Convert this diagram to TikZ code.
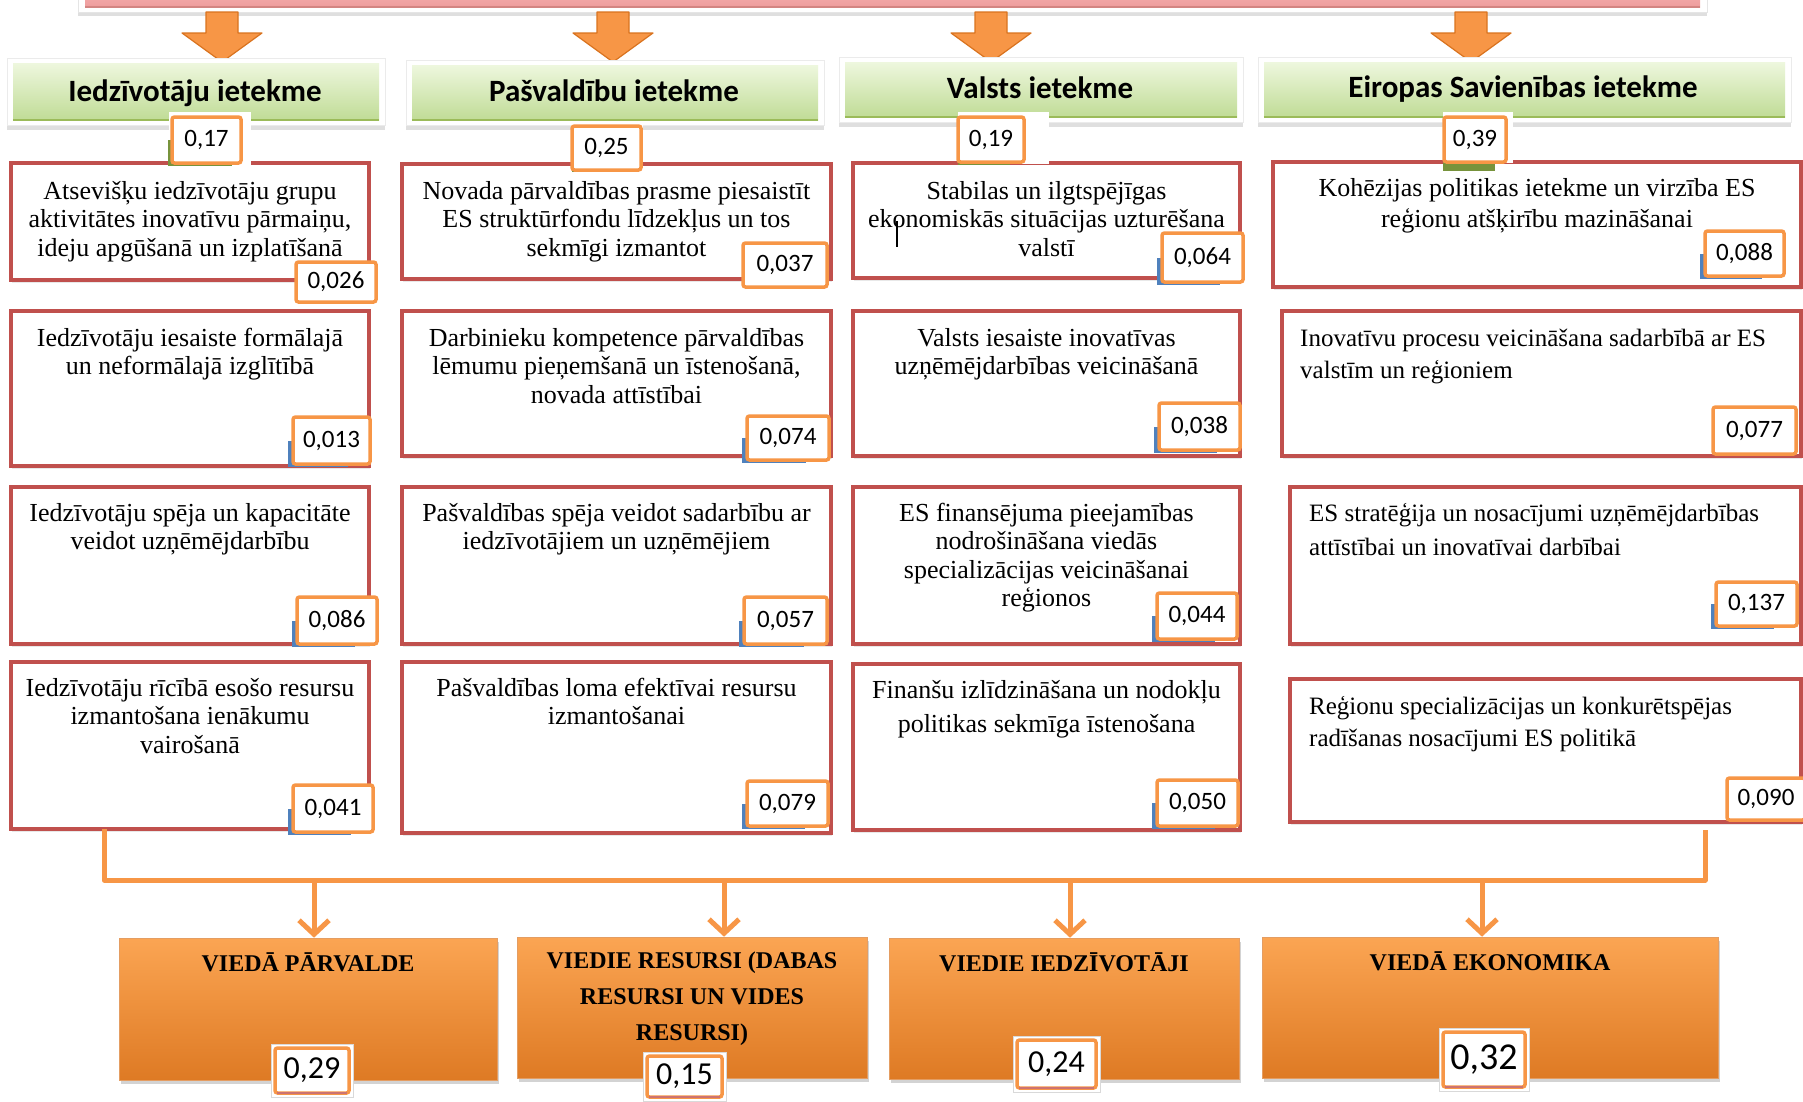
\documentclass[tikz,border=0pt]{standalone}
\usepackage{fontspec}
\setmainfont{Liberation Serif}
\newfontfamily\carl{Carlito}
\usetikzlibrary{shadows,calc,arrows.meta}
\definecolor{orn}{HTML}{F79646}
\definecolor{ornd}{HTML}{D9731F}
\definecolor{redb}{HTML}{C0504D}
\definecolor{blu}{HTML}{4F81BD}
\definecolor{olv}{HTML}{77933C}
\definecolor{pinktop}{HTML}{F6B4B4}
\definecolor{pinkbot}{HTML}{EE9C9C}
\definecolor{grtop}{HTML}{EEF7DE}
\definecolor{grbot}{HTML}{C0DC96}
\definecolor{grline}{HTML}{9BBB59}
\definecolor{obtop}{HTML}{FBA553}
\definecolor{obbot}{HTML}{DE7A24}
\newcommand\st{\rule{0pt}{23pt}}
\newcommand\rbx[5]{\node[redbox, minimum width={#4-#2}, minimum height={#5-#3}] (#1) at ({(#2+#4)/2},{(#3+#5)/2}) {};}
\newcommand\bbar[4]{\fill[blu] ({#1-5},{(#2+#4)/2}) rectangle ({#1+0.72*(#3-#1)},{#4+3});}
\newcommand\nbx[6]{\node[numbox, minimum width={#4-#2}, minimum height={#5-#3}] (#1) at ({(#2+#4)/2},{(#3+#5)/2}) {#6};}
\newcommand\bnum[7]{%
  \fill[white, draw=black!15, line width=0.5pt] (#2,#3) rectangle (#4,#5);
  \node[numbox, font=\carl\fontsize{#7}{#7}\selectfont, minimum width={#4-#2-8}, minimum height={#5-#3-8}] (#1) at ({(#2+#4)/2},{(#3+#5)/2}) {#6};
  \draw[redb!80, line width=2pt] ({#2+6},{#5-4}) -- ({#4-6},{#5-4});}
\newcommand\harrow[1]{%
  \filldraw[fill=orn, draw=ornd, line width=1.2pt, line join=round]
   ({#1-16},12) -- ({#1+16},12) -- ({#1+16},33) -- ({#1+40},33) -- (#1,62) -- ({#1-40},33) -- ({#1-16},33) -- cycle;}
\begin{document}
\begin{tikzpicture}[x=1pt,y=-1pt,
  redbox/.style={draw=redb, line width=3.5pt, fill=white, inner sep=0pt, outer sep=0pt,
     drop shadow={opacity=0.18, shadow xshift=1pt, shadow yshift=-2.5pt}},
  numbox/.style={draw=orn, line width=3.5pt, fill=white, rounded corners=2.5pt, inner sep=0pt, outer sep=0pt,
     font=\carl\fontsize{25}{25}\selectfont},
  hdrframe/.style={fill=white, draw=black!8, inner sep=0pt,
     drop shadow={opacity=0.25, shadow xshift=0pt, shadow yshift=-4pt}},
  hdr/.style={top color=grtop, bottom color=grbot, inner sep=0pt},
  hdrtext/.style={font=\carl\bfseries\fontsize{31}{31}\selectfont, inner sep=0pt, anchor=base},
  boxtext/.style={font=\fontsize{26}{28.5}\selectfont, align=center, inner sep=0pt, anchor=north},
  lefttext/.style={font=\fontsize{25}{32}\selectfont, align=left, inner sep=0pt, anchor=north west},
  obox/.style={top color=obtop, bottom color=obbot, draw=ornd!70, line width=0.6pt, inner sep=0pt,
     drop shadow={opacity=0.35, shadow xshift=2pt, shadow yshift=-4pt}},
  otext/.style={font=\bfseries\fontsize{24}{36}\selectfont, align=center, inner sep=0pt, anchor=north},
  bus/.style={draw=orn, line width=5pt, line join=round},
  barrow/.style={draw=orn, line width=5pt, -{Straight Barb[length=14pt, width=30pt]}}
]
\useasboundingbox (0,0) rectangle (1803,1101);
% top bar
\node[fill=white, draw=black!10, inner sep=0pt, minimum width=1629, minimum height=26,
  drop shadow={opacity=0.25, shadow xshift=0pt, shadow yshift=-4pt}] (topframe) at (892.5,-1) {};
\node[top color=pinktop, bottom color=pinkbot, inner sep=0pt, minimum width=1615, minimum height=20] (topbar) at (892.5,-3) {};
\draw[redb!70, line width=2pt] (topbar.south west) -- (topbar.south east);
% block arrows
\harrow{222}\harrow{613}\harrow{991}\harrow{1471}
% headers
\node[hdrframe, minimum width=378, minimum height=67] (f1) at (196,92) {};
\node[hdr, minimum width=366, minimum height=57] (h1) at (196,91.5) {};
\node[hdrframe, minimum width=418, minimum height=65] (f2) at (615,93) {};
\node[hdr, minimum width=406, minimum height=55] (h2) at (615,92.5) {};
\node[hdrframe, minimum width=404, minimum height=65] (f3) at (1041,90) {};
\node[hdr, minimum width=392, minimum height=55] (h3) at (1041,89.5) {};
\node[hdrframe, minimum width=533, minimum height=65] (f4) at (1524.5,90) {};
\node[hdr, minimum width=521, minimum height=55] (h4) at (1524.5,89.5) {};
\foreach \h in {h1,h2,h3,h4}{\draw[grline, line width=2.5pt] (\h.south west) -- (\h.south east);}
\node[hdrtext] (t1) at (195,101) {Iedzīvotāju ietekme};
\node[hdrtext] (t2) at (614,101) {Pašvaldību ietekme};
\node[hdrtext] (t3) at (1040,98) {Valsts ietekme};
\node[hdrtext] (t4) at (1523,97) {Eiropas Savienības ietekme};
% red boxes
\rbx{c1r1}{11}{163}{369}{280}
\rbx{c2r1}{402}{164}{831}{279}
\rbx{c3r1}{853}{163}{1240}{278}
\rbx{c4r1}{1273}{162}{1801}{287}
\rbx{c1r2}{11}{311}{369}{466}
\rbx{c2r2}{402}{311}{831}{456}
\rbx{c3r2}{853}{311}{1240}{456}
\rbx{c4r2}{1282}{311}{1801}{456}
\rbx{c1r3}{11}{487}{369}{644}
\rbx{c2r3}{402}{487}{831}{644}
\rbx{c3r3}{853}{487}{1240}{644}
\rbx{c4r3}{1290}{487}{1801}{644}
\rbx{c1r4}{11}{662}{369}{829}
\rbx{c2r4}{402}{662}{831}{833}
\rbx{c3r4}{853}{664}{1240}{830}
\rbx{c4r4}{1290}{679}{1801}{822}
% top value boxes
\fill[white] (169,112) rectangle (251,165);
\fill[white] (571,124) rectangle (643,171);
\fill[white] (958,112) rectangle (1049,164);
\fill[white] (1443,112) rectangle (1513,163);
\fill[olv] (168,140) rectangle (232,166);
\fill[olv] (572,150) rectangle (626,172);
\fill[olv] (958,150) rectangle (1010,165);
\fill[olv] (1443,158) rectangle (1495,171);
\nbx{n17}{172}{117}{241}{163}{0,17}
\nbx{n25}{572}{126}{641}{170}{0,25}
\nbx{n19}{958}{117}{1024}{162}{0,19}
\nbx{n39}{1444}{117}{1506}{162}{0,39}
% texts
\node[boxtext] (x11) at (190,176) {\st Atsevišķu iedzīvotāju grupu\\aktivitātes inovatīvu pārmaiņu,\\ideju apgūšanā un izplatīšanā};
\node[boxtext] (x21) at (616.5,176) {\st Novada pārvaldības prasme piesaistīt\\ES struktūrfondu līdzekļus un tos\\sekmīgi izmantot};
\node[boxtext] (x31) at (1046.5,176) {\st Stabilas un ilgtspējīgas\\ekonomiskās situācijas uzturēšana\\valstī};
\node[boxtext, font=\fontsize{26}{31}\selectfont] (x41) at (1537,173) {\st Kohēzijas politikas ietekme un virzība ES\\reģionu atšķirību mazināšanai};
\node[boxtext] (x12) at (190,323) {\st Iedzīvotāju iesaiste formālajā\\un neformālajā izglītībā};
\node[boxtext] (x22) at (616.5,323) {\st Darbinieku kompetence pārvaldības\\lēmumu pieņemšanā un īstenošanā,\\novada attīstībai};
\node[boxtext] (x32) at (1046.5,323) {\st Valsts iesaiste inovatīvas\\uzņēmējdarbības veicināšanā};
\node[lefttext] (x42) at (1300,323) {\st Inovatīvu procesu veicināšana sadarbībā ar ES\\valstīm un reģioniem};
\node[boxtext] (x13) at (190,498) {\st Iedzīvotāju spēja un kapacitāte\\veidot uzņēmējdarbību};
\node[boxtext] (x23) at (616.5,498) {\st Pašvaldības spēja veidot sadarbību ar\\iedzīvotājiem un uzņēmējiem};
\node[boxtext] (x33) at (1046.5,498) {\st ES finansējuma pieejamības\\nodrošināšana viedās\\specializācijas veicināšanai\\reģionos};
\node[lefttext, font=\fontsize{25}{34}\selectfont] (x43) at (1309,498) {\st ES stratēģija un nosacījumi uzņēmējdarbības\\attīstībai un inovatīvai darbībai};
\node[boxtext] (x14) at (190,673) {\st Iedzīvotāju rīcībā esošo resursu\\izmantošana ienākumu\\vairošanā};
\node[boxtext] (x24) at (616.5,673) {\st Pašvaldības loma efektīvai resursu\\izmantošanai};
\node[boxtext, font=\fontsize{26}{34}\selectfont] (x34) at (1046.5,675) {\st Finanšu izlīdzināšana un nodokļu\\politikas sekmīga īstenošana};
\node[lefttext] (x44) at (1309,691) {\st Reģionu specializācijas un konkurētspējas\\radīšanas nosacījumi ES politikā};
\draw[line width=2.5pt] (897,221) -- (897,247);
% blue bars
\bbar{293}{417}{370}{464}
\bbar{747}{416}{829}{460}
\bbar{297}{597}{377}{644}
\bbar{744}{597}{827}{644}
\bbar{293}{785}{373}{832}
\bbar{747}{781}{828}{826}
\bbar{1162}{233}{1243}{282}
\bbar{1705}{231}{1784}{276}
\bbar{1159}{403}{1240}{450}
\bbar{1157}{593}{1237}{639}
\bbar{1716}{582}{1797}{626}
\bbar{1157}{780}{1238}{826}
% value boxes
\nbx{v11}{296}{262}{376}{302}{0,026}
\nbx{v21}{743}{243}{827}{287}{0,037}
\nbx{v31}{1162}{233}{1243}{282}{0,064}
\nbx{v41}{1705}{231}{1784}{276}{0,088}
\nbx{v12}{293}{417}{370}{464}{0,013}
\nbx{v22}{747}{416}{829}{460}{0,074}
\nbx{v32}{1159}{403}{1240}{450}{0,038}
\nbx{v42}{1713}{407}{1796}{454}{0,077}
\nbx{v13}{297}{597}{377}{644}{0,086}
\nbx{v23}{744}{597}{827}{644}{0,057}
\nbx{v33}{1157}{593}{1237}{639}{0,044}
\nbx{v43}{1716}{582}{1797}{626}{0,137}
\nbx{v14}{293}{785}{373}{832}{0,041}
\nbx{v24}{747}{781}{828}{826}{0,079}
\nbx{v34}{1157}{780}{1238}{826}{0,050}
\nbx{v44}{1727}{778}{1805}{820}{0,090}
% bus and arrows
\coordinate (busL) at (104,880);
\coordinate (busR) at (1705,880);
\draw[bus] (busL |- c1r4.south) -- (busL) -- (busR) -- (1705,830);
% bottom boxes
\node[obox, minimum width=378, minimum height=142] (o1) at (308,1009) {};
\node[obox, minimum width=350, minimum height=141] (o2) at (692,1007.5) {};
\node[obox, minimum width=350, minimum height=141] (o3) at (1064,1008.5) {};
\node[obox, minimum width=456, minimum height=141] (o4) at (1490,1007.5) {};
\coordinate (a1) at (314,880);
\coordinate (a2) at (724,880);
\coordinate (a3) at (1070,880);
\coordinate (a4) at (1482,880);
\draw[barrow] (a1) -- (a1 |- o1.north);
\draw[barrow] (a2) -- (a2 |- o2.north);
\draw[barrow] (a3) -- (a3 |- o3.north);
\draw[barrow] (a4) -- (a4 |- o4.north);
\node[otext] (ot1) at (308,948) {\st VIEDĀ PĀRVALDE};
\node[otext] (ot2) at (692,945) {\st VIEDIE RESURSI (DABAS\\RESURSI UN VIDES\\RESURSI)};
\node[otext] (ot3) at (1064,948) {\st VIEDIE IEDZĪVOTĀJI};
\node[otext] (ot4) at (1490,947) {\st VIEDĀ EKONOMIKA};
\bnum{b1}{271}{1044}{353}{1097}{0,29}{32}
\bnum{b2}{643}{1052}{726}{1101}{0,15}{32}
\bnum{b3}{1013}{1036}{1100}{1092}{0,24}{32}
\bnum{b4}{1439}{1028}{1529}{1091}{0,32}{38}
\end{tikzpicture}
\end{document}
